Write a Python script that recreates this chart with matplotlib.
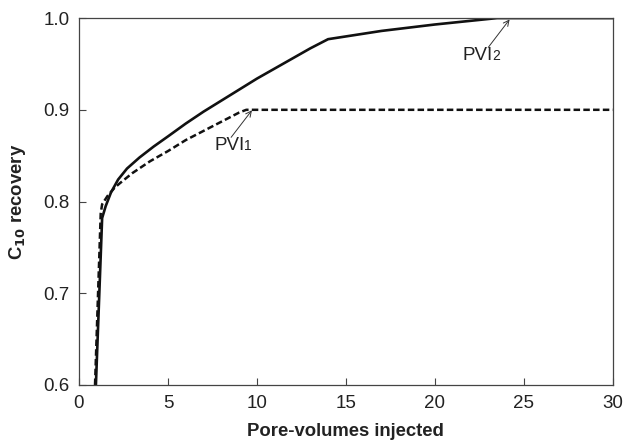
import matplotlib
matplotlib.use("Agg")
import matplotlib.pyplot as plt

plt.rcParams['font.family'] = ['Liberation Sans', 'DejaVu Sans']

# Solid curve (case 2)
pv_solid = [0.95, 1.3, 1.5, 1.8, 2.2, 2.7, 3.4, 4.2, 5.0, 6.0, 7.0, 8.0, 9.0, 10.0, 11.0, 12.0, 13.0, 14.0, 17.0, 20.0, 23.5, 30.0]
rec_solid = [0.6, 0.782, 0.795, 0.810, 0.824, 0.836, 0.848, 0.860, 0.871, 0.885, 0.898, 0.910, 0.922, 0.934, 0.945, 0.956, 0.967, 0.977, 0.986, 0.993, 1.0, 1.0]

# Dashed curve (case 1)
pv_dash = [0.9, 1.22, 1.3, 1.6, 2.0, 2.3, 3.0, 4.0, 5.0, 6.0, 7.0, 8.0, 9.0, 9.4, 30.0]
rec_dash = [0.6, 0.787, 0.797, 0.806, 0.815, 0.820, 0.831, 0.844, 0.855, 0.867, 0.877, 0.887, 0.897, 0.900, 0.900]

xticks = [0, 5, 10, 15, 20, 25, 30]
yticks = [0.6, 0.7, 0.8, 0.9, 1.0]

fig = plt.figure(figsize=(6.24, 4.41), dpi=100)
ax = fig.add_axes([0.1266, 0.127, 0.982 - 0.1266, 0.959 - 0.127])

ax.plot(pv_solid, rec_solid, color='#111111', lw=1.9, solid_joinstyle='round')
ax.plot(pv_dash, rec_dash, color='#111111', lw=1.8, ls=(0, (2.6, 1.3)))

ax.set_xlim(0, 30)
ax.set_ylim(0.6, 1.0)
ax.set_xticks(xticks)
ax.set_yticks(yticks)
ax.set_xticklabels([str(t) for t in xticks])
ax.set_yticklabels([f"{t:.1f}" for t in yticks])
ax.tick_params(direction='in', length=5, width=0.8, labelsize=13.5, colors='#444444', pad=7,
               labelcolor='#222222')
for s in ax.spines.values():
    s.set_linewidth(0.9)
    s.set_color('#444444')

ax.set_xlabel('Pore-volumes injected', fontsize=13.3, fontweight='bold', color='#222222', labelpad=8)
ax.set_ylabel(r'C$_{\mathbf{10}}$ recovery', fontsize=13.3, fontweight='bold', color='#222222', labelpad=11)


def pvi_label(text_xy, sub, head_xy, tail_xy):
    t = ax.text(text_xy[0], text_xy[1], 'PVI', fontsize=13.5, color='#222222', ha='left', va='center')
    ax.annotate(sub, xy=(1.0, 0.08), xycoords=t, fontsize=10, color='#222222', ha='left', va='bottom')
    ax.annotate('', xy=head_xy, xytext=tail_xy,
                arrowprops=dict(arrowstyle='->', color='#333333', lw=0.7, shrinkA=0, shrinkB=0))


pvi_label((7.6, 0.861), '1', (9.72, 0.8995), (8.55, 0.870))
pvi_label((21.55, 0.959), '2', (24.2, 0.9985), (23.0, 0.968))

fig.savefig('out.png', dpi=100)
